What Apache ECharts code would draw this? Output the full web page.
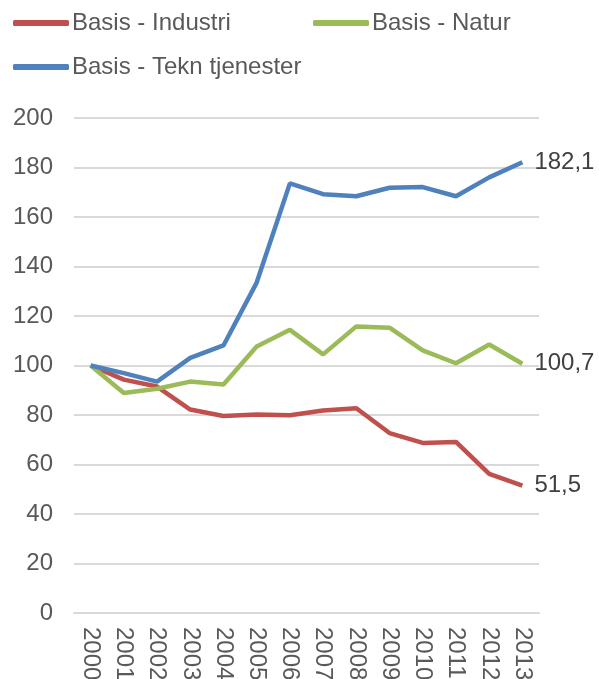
<!DOCTYPE html>
<html>
<head>
<meta charset="utf-8">
<script src="https://cdn.jsdelivr.net/npm/echarts@6/dist/echarts.min.js"></script>
<style>
  html, body { margin: 0; padding: 0; background: #fff; }
  #chart { width: 599px; height: 679px; }
</style>
</head>
<body>
<div id="chart"></div>
<script>
// Data
const years = ["2000", "2001", "2002", "2003", "2004", "2005", "2006", "2007", "2008", "2009", "2010", "2011", "2012", "2013"];
const industri = [100, 94.3, 91.5, 82.2, 79.6, 80.2, 79.9, 81.8, 82.7, 72.7, 68.7, 69.1, 56.2, 51.5];
const natur = [100, 88.9, 90.6, 93.5, 92.3, 107.7, 114.4, 104.5, 115.8, 115.3, 106.1, 100.9, 108.5, 100.7];
const tekn = [100, 96.9, 93.5, 103.1, 108.1, 133.5, 173.6, 169.2, 168.4, 171.8, 172.1, 168.4, 176.0, 182.1];

const font = "Liberation Sans, Arial, sans-serif";
const textColor = "#595959";

const chart = echarts.init(document.getElementById("chart"));

const legendBase = {
  icon: "roundRect",
  itemWidth: 56,
  itemHeight: 6,
  itemGap: 0,
  padding: 0,
  textStyle: { fontFamily: font, fontSize: 24, color: textColor, padding: [0, 0, 0, -2] },
};

function makeSeries(name, data, color) {
  return {
    name: name,
    type: "line",
    data: data,
    symbol: "none",
    lineStyle: { width: 4.5, color: color },
    itemStyle: { color: color },
    endLabel: {
      show: true,
      distance: 12,
      fontFamily: font,
      fontSize: 24,
      color: "#404040",
      formatter: (p) => String(p.value).replace(".", ","),
    },
  };
}

const option = {
  animation: false,
  legend: [
    Object.assign({ left: 13, top: 11, data: ["Basis - Industri"] }, legendBase),
    Object.assign({ left: 313, top: 11, data: ["Basis - Natur"] }, legendBase),
    Object.assign({ left: 13, top: 55, data: ["Basis - Tekn tjenester"] }, legendBase),
  ],
  grid: { left: 74, right: 60, top: 118, bottom: 66, outerBoundsMode: "none" },
  xAxis: {
    type: "category",
    data: years,
    boundaryGap: true,
    axisLine: { lineStyle: { color: "#D9D9D9", width: 2 } },
    axisTick: { show: false },
    axisLabel: {
      rotate: -90,
      margin: 14,
      fontFamily: font,
      fontSize: 24,
      color: textColor,
    },
  },
  yAxis: {
    type: "value",
    min: 0,
    max: 200,
    interval: 20,
    axisLine: { show: false },
    axisTick: { show: false },
    splitLine: { lineStyle: { color: "#D9D9D9", width: 2 } },
    axisLabel: { margin: 21, fontFamily: font, fontSize: 24, color: textColor },
  },
  series: [
    makeSeries("Basis - Industri", industri, "#C0504D"),
    makeSeries("Basis - Natur", natur, "#9BBB59"),
    makeSeries("Basis - Tekn tjenester", tekn, "#4F81BD"),
  ],
};

chart.setOption(option);
</script>
</body>
</html>
